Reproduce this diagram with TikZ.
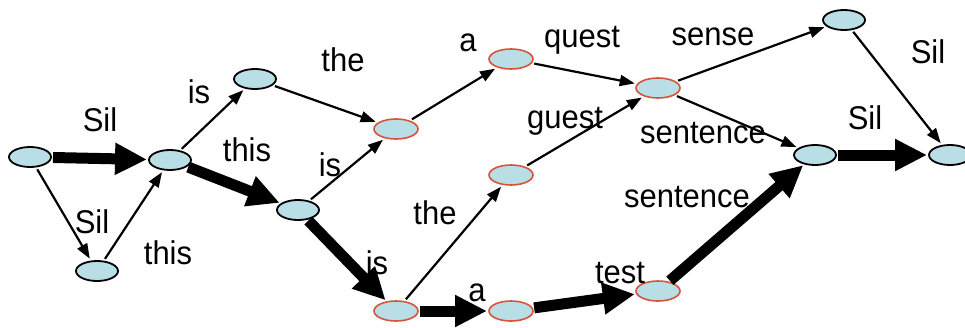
\documentclass[tikz,border=0pt]{standalone}
\usepackage{fontspec}
\setmainfont{Liberation Sans}
\usetikzlibrary{arrows.meta,shapes.geometric}
\definecolor{statefill}{RGB}{186,222,230}
\definecolor{hypedge}{RGB}{214,84,58}
\tikzset{
  state/.style={ellipse, draw=black, line width=1.8pt, fill=statefill,
    minimum width=42pt, minimum height=20pt, inner sep=0pt, outer sep=1pt},
  hyp/.style={state, draw=hypedge, line width=1.6pt, minimum width=44pt},
  word/.style={font=\fontsize{31}{31}\selectfont, inner sep=0pt, yscale=1.06},
  thin/.style={line width=2.2pt, -{Triangle[length=15pt,width=11pt]},
    shorten <=2pt, shorten >=2pt},
  heavy/.style={line width=11pt, -{Triangle[length=32pt,width=30pt]},
    shorten <=1pt, shorten >=1pt}
}
\begin{document}
\begin{tikzpicture}[x=1pt,y=-1pt]
\useasboundingbox (0,0) rectangle (965,327);
\clip (0,0) rectangle (965,327);
\fill[white] (0,0) rectangle (965,327);

% lattice states
\node[state] (s0) at (30,157) {};
\node[state] (s1) at (170,160) {};
\node[state] (s2) at (97,271) {};
\node[state] (s3) at (255,79) {};
\node[state] (s4) at (298,210) {};
\node[hyp]   (h1) at (396,129) {};
\node[hyp]   (h2) at (511,59) {};
\node[hyp]   (h3) at (511,175) {};
\node[hyp]   (h4) at (396,311) {};
\node[hyp]   (h5) at (511,311) {};
\node[hyp]   (h6) at (658,88) {};
\node[hyp]   (h7) at (658,291) {};
\node[state] (s5) at (844,20) {};
\node[state] (s6) at (815,155) {};
\node[state] (s7) at (950,155) {};

% transitions
\draw[heavy] (s0) -- (s1);
\draw[thin]  (s0) -- (s2);
\draw[thin]  (s2) -- (s1);
\draw[thin]  (s1) -- (s3);
\draw[heavy] (s1) -- (s4);
\draw[thin]  (s3) -- (h1);
\draw[thin]  (s4) -- (h1);
\draw[heavy] (s4) -- (h4);
\draw[thin]  (h1) -- (h2);
\draw[thin]  (h2) -- (h6);
\draw[thin]  (h4) -- (h3);
\draw[thin]  (h3) -- (h6);
\draw[heavy] (h4) -- (h5);
\draw[heavy] (h5) -- (h7);
\draw[thin]  (h6) -- (s5);
\draw[thin]  (h6) -- (s6);
\draw[heavy] (h7) -- (s6);
\draw[thin]  (s5) -- (s7);
\draw[heavy] (s6) -- (s7);

% word labels
\node[word] (w1)  at (100,120) {Sil};
\node[word] (w2)  at (92,222)  {Sil};
\node[word] (w3)  at (168,253) {this};
\node[word] (w4)  at (199,92)  {is};
\node[word] (w5)  at (247,150) {this};
\node[word] (w6)  at (343,60)  {the};
\node[word] (w7)  at (330,165) {is};
\node[word] (w8)  at (377,263) {is};
\node[word] (w9)  at (468,43)  {a};
\node[word] (w10) at (582,40)  {quest};
\node[word] (w11) at (565,121) {guest};
\node[word] (w12) at (435,213) {the};
\node[word] (w13) at (477,293) {a};
\node[word] (w14) at (620,273) {test};
\node[word] (w15) at (713,37)  {sense};
\node[word] (w16) at (703,133) {sentence};
\node[word] (w17) at (687,197) {sentence};
\node[word] (w18) at (928,52)  {Sil};
\node[word] (w19) at (865,118) {Sil};
\end{tikzpicture}
\end{document}
